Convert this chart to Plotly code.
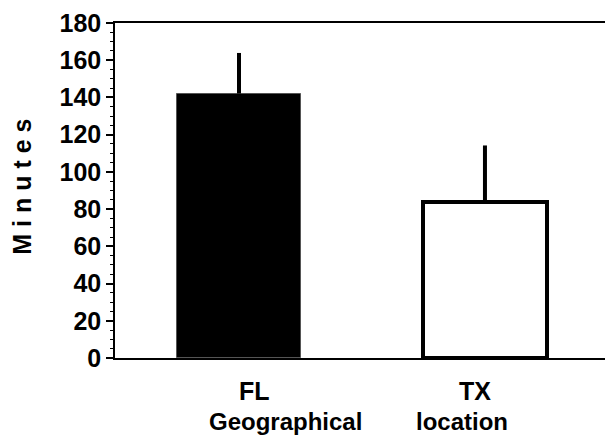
import plotly.graph_objects as go

categories = ["FL", "TX"]
x_pos = [0, 1]
minutes = [142.1, 83.8]
err_up = [21.8, 30.4]
fill_colors = ["black", "white"]
line_colors = ["#555555", "black"]
line_widths = [1, 4]
y_ticks = [0, 20, 40, 60, 80, 100, 120, 140, 160, 180]
x_title_words = ["Geographical", "location"]

FONT = "Liberation Sans, Arial, Helvetica, sans-serif"

fig = go.Figure()
fig.add_trace(go.Bar(
    x=x_pos, y=minutes, width=0.505,
    marker=dict(color=fill_colors, line=dict(color=line_colors, width=line_widths)),
    error_y=dict(type="data", symmetric=False, array=err_up, arrayminus=[0, 0],
                 color="black", thickness=4, width=0),
    showlegend=False, hoverinfo="skip",
))

fig.update_layout(
    width=605, height=438,
    margin=dict(l=115, r=0, t=23, b=80),
    paper_bgcolor="white", plot_bgcolor="white",
    font=dict(family=FONT, color="black"),
    bargap=0,
)
fig.update_xaxes(
    range=[-0.504, 1.488], showticklabels=False, ticks="", showgrid=False,
    zeroline=False, showline=True, linecolor="black", linewidth=1.5, mirror=True,
)
fig.update_yaxes(
    range=[0, 180], tickvals=y_ticks, ticktext=[str(v) for v in y_ticks],
    ticks="outside", ticklen=7, tickwidth=1.5, tickcolor="black",
    minor=dict(dtick=5, ticks="outside", ticklen=3, tickwidth=1, tickcolor="black"),
    tickfont=dict(family=FONT, size=25, weight="bold", color="black"),
    showgrid=False, zeroline=False, showline=True, linecolor="black", linewidth=1.5,
    ticklabelstandoff=0,
)

# category labels under bars
cat_x = [0.2837, 0.7347]
for cx, cat in zip(cat_x, categories):
    fig.add_annotation(text=cat, xref="paper", yref="paper", x=cx, y=-0.098,
                       xanchor="center", yanchor="middle", showarrow=False,
                       font=dict(family=FONT, size=25, weight="bold", color="black"))
word_x = [0.347, 0.708]
for wx, w in zip(word_x, x_title_words):
    fig.add_annotation(text=w, xref="paper", yref="paper", x=wx, y=-0.19,
                       xanchor="center", yanchor="middle", showarrow=False,
                       font=dict(family=FONT, size=24, weight="bold", color="black"))

fig.add_annotation(text="M i n u t e s", xref="paper", yref="paper", x=-0.19, y=0.511,
                   xanchor="center", yanchor="middle", textangle=-90, showarrow=False,
                   font=dict(family=FONT, size=25, weight="bold", color="black"))

fig.write_html("out.html", config={"displayModeBar": False},
               post_script="document.body.style.margin='0';document.body.style.overflow='hidden';")
